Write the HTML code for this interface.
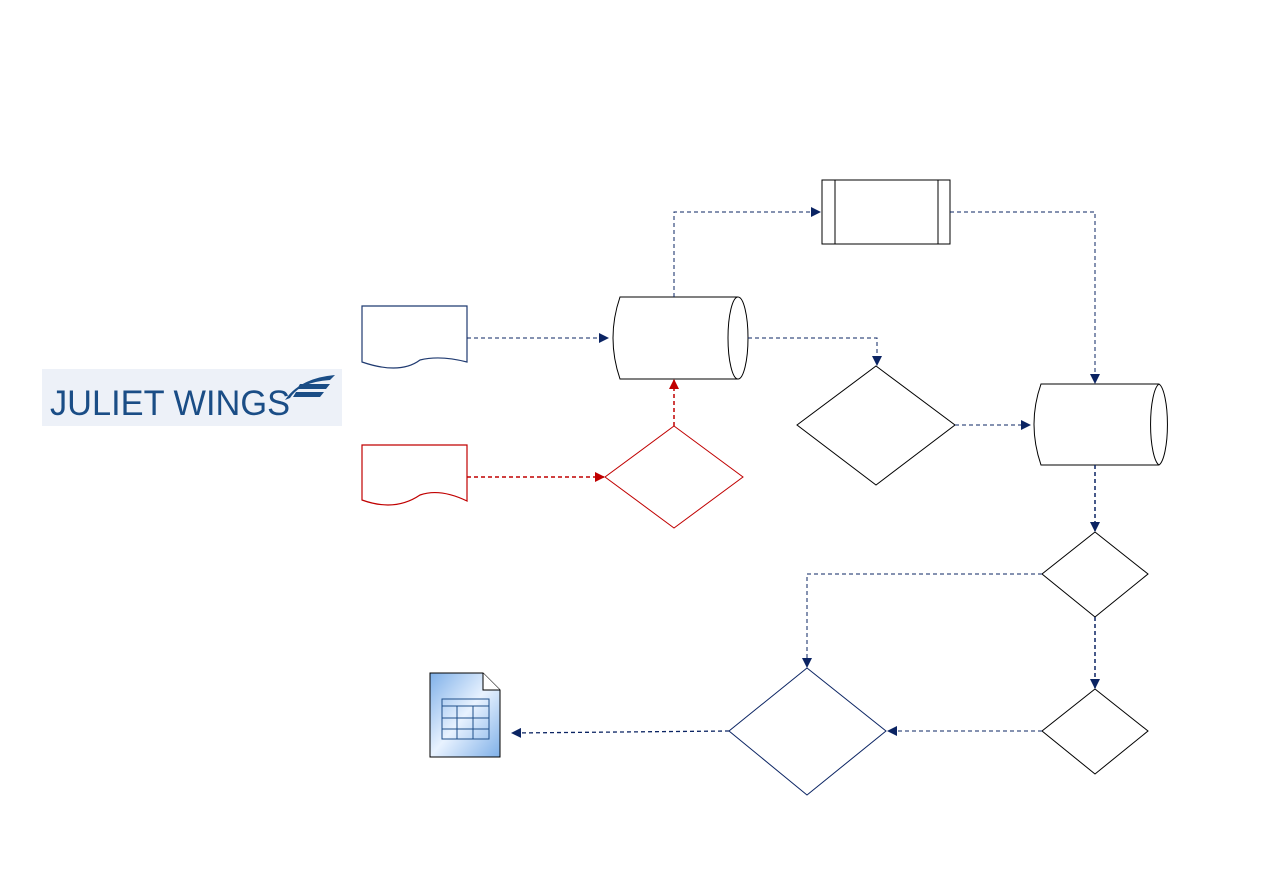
<!DOCTYPE html>
<html><head><style>body{margin:0;background:#fff}</style></head><body>
<svg width="1262" height="892" xmlns="http://www.w3.org/2000/svg" style="display:block">
<defs>
<marker id="an" markerWidth="10" markerHeight="10" refX="9" refY="5" orient="auto" markerUnits="userSpaceOnUse"><path d="M0,0 L10,5 L0,10z" fill="#0b2463"/></marker>
<marker id="ar" markerWidth="10" markerHeight="10" refX="9" refY="5" orient="auto" markerUnits="userSpaceOnUse"><path d="M0,0 L10,5 L0,10z" fill="#c00000"/></marker>
<linearGradient id="g" x1="0" y1="0" x2="1" y2="1"><stop offset="0" stop-color="#7fb0e8"/><stop offset=".5" stop-color="#e8f2ff"/><stop offset="1" stop-color="#7fb0e8"/></linearGradient>
</defs>
<!-- logo -->
<rect x="42" y="369" width="300" height="57" fill="#edf1f8"/>
<text x="50" y="415" font-family="Liberation Sans, sans-serif" font-size="35" fill="#1a4d86" textLength="240" lengthAdjust="spacingAndGlyphs">JULIET WINGS</text>
<path d="M285,400 Q300,378 335,375 L330,380 Q300,382 290,398z M300,384 L330,384 L326,389 L297,389z M296,392 L324,392 L320,397 L293,397z" fill="#1a4d86"/>
<!-- documents -->
<path d="M362,306 H467 V362 Q440,355 420,360 Q400,375 362,362 Z" fill="#fff" stroke="#1f3a70" stroke-width="1.2"/>
<path d="M362,445 H467 V501 Q440,488 420,495 Q395,512 362,500 Z" fill="#fff" stroke="#c00000" stroke-width="1.2"/>
<!-- cylinder 1 -->
<path d="M620,297 H738 A10,41 0 0 1 738,379 H620 Q606,338 620,297 Z" fill="#fff" stroke="#000"/>
<path d="M738,297 A10,41 0 0 0 738,379" fill="none" stroke="#000"/>
<!-- cylinder 2 -->
<path d="M1041,384 H1159 A10,41 0 0 1 1159,465 H1041 Q1027,424 1041,384 Z" fill="#fff" stroke="#000"/>
<path d="M1159,384 A10,41 0 0 0 1159,465" fill="none" stroke="#000"/>
<!-- process -->
<rect x="822" y="180" width="128" height="64" fill="#fff" stroke="#000"/>
<line x1="835" y1="180" x2="835" y2="244" stroke="#000"/>
<line x1="938" y1="180" x2="938" y2="244" stroke="#000"/>
<!-- diamonds -->
<path d="M876,366 L955,425 L876,485 L797,425Z" fill="#fff" stroke="#000"/>
<path d="M674,426 L743,477 L674,528 L605,477Z" fill="#fff" stroke="#c00000"/>
<path d="M1095,532 L1148,574 L1095,617 L1042,574Z" fill="#fff" stroke="#000"/>
<path d="M1095,689 L1148,731 L1095,774 L1042,731Z" fill="#fff" stroke="#000"/>
<path d="M807,668 L886,731 L807,795 L729,731Z" fill="#fff" stroke="#0b2463"/>
<!-- spreadsheet -->
<path d="M430,673 H483 L500,690 V757 H430Z" fill="url(#g)" stroke="#000"/>
<path d="M483,673 V690 H500" fill="#fff" stroke="#000"/>
<g stroke="#1f4f8a" fill="none"><rect x="442" y="699" width="47" height="40"/><line x1="442" y1="706" x2="489" y2="706"/><line x1="442" y1="718" x2="489" y2="718"/><line x1="442" y1="729" x2="489" y2="729"/><line x1="457" y1="706" x2="457" y2="739"/><line x1="473" y1="706" x2="473" y2="739"/></g>
<!-- connectors -->
<g fill="none" stroke="#0b2463" stroke-width="1" stroke-dasharray="4,3">
<path d="M467,338 H608" marker-end="url(#an)"/>
<path d="M674,297 V212 H820" marker-end="url(#an)"/>
<path d="M950,212 H1095 V383" marker-end="url(#an)"/>
<path d="M748,338 H877 V365" marker-end="url(#an)"/>
<path d="M955,425 H1030" marker-end="url(#an)"/>
<path d="M1095,465 V531" stroke-width="1.5" marker-end="url(#an)"/>
<path d="M1042,574 H807 V667" marker-end="url(#an)"/>
<path d="M1095,617 V688" stroke-width="1.5" marker-end="url(#an)"/>
<path d="M1042,731 H888" marker-end="url(#an)"/>
<path d="M729,731 L512,733" stroke-width="1.3" marker-end="url(#an)"/>
</g>
<g fill="none" stroke="#c00000" stroke-width="1.5" stroke-dasharray="4,3">
<path d="M467,477 H604" marker-end="url(#ar)"/>
<path d="M674,426 V380" marker-end="url(#ar)"/>
</g>
</svg>
</body></html>
